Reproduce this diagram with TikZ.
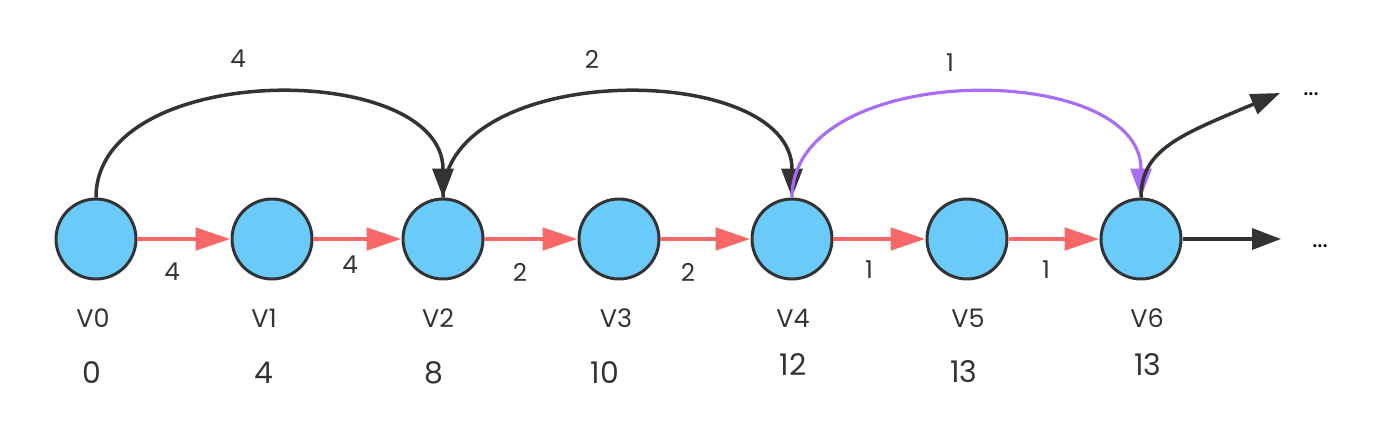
\documentclass[tikz,border=0pt]{standalone}
\usepackage{fontspec}
\setmainfont{Poppins}
\usetikzlibrary{arrows.meta}
\definecolor{nodefill}{HTML}{6ACBFB}
\definecolor{darkline}{HTML}{333333}
\definecolor{redline}{HTML}{F96868}
\definecolor{purpleline}{HTML}{A86CF7}
\definecolor{txt}{HTML}{333333}
\tikzset{
  vertex/.style={circle, draw=darkline, fill=nodefill, line width=1.7pt, minimum size=1.6cm, inner sep=0pt},
  redarrow/.style={draw=redline, line width=2.8pt, -{Triangle[length=0.7cm,width=0.44cm]}},
  blackarc/.style={draw=darkline, line width=2pt, -{Triangle[length=0.58cm,width=0.42cm]}},
  purplearc/.style={draw=purpleline, line width=1.8pt, -{Triangle[length=0.58cm,width=0.42cm]}},
  vlabel/.style={text=txt, font=\fontsize{14.5}{17}\selectfont, inner sep=0pt},
  numlabel/.style={text=txt, font=\fontsize{17}{20}\selectfont, inner sep=0pt},
  elabel/.style={text=txt, font=\fontsize{14}{16}\selectfont, inner sep=0pt},
  alabel/.style={text=txt, font=\fontsize{14}{16}\selectfont, inner sep=0pt},
  dotlabel/.style={text=black, font=\fontsize{14}{16}\selectfont, inner sep=0pt},
}
\begin{document}
\begin{tikzpicture}[x=0.02cm, y=-0.02cm]
\useasboundingbox (0,0) rectangle (1392,426);
% vertices
\node[vertex] (v0) at (96,239) {};
\node[vertex] (v1) at (272,239) {};
\node[vertex] (v2) at (443,239) {};
\node[vertex] (v3) at (619,239) {};
\node[vertex] (v4) at (792,239) {};
\node[vertex] (v5) at (967,239) {};
\node[vertex] (v6) at (1141,239) {};
% free ends
\coordinate (e1) at (1280,93);
\coordinate (e2) at (1281,239);
% red chain
\draw[redarrow] (v0) -- (v1);
\draw[redarrow] (v1) -- (v2);
\draw[redarrow] (v2) -- (v3);
\draw[redarrow] (v3) -- (v4);
\draw[redarrow] (v4) -- (v5);
\draw[redarrow] (v5) -- (v6);
% arcs
\draw[blackarc] (v0.north) .. controls +(0,-138) and +(0,-138) .. (v2.north);
\draw[blackarc] (v2.north) .. controls +(0,-138) and +(0,-138) .. (v4.north);
\draw[purplearc] (v4.north) .. controls +(0,-138) and +(0,-138) .. (v6.north);
\draw[blackarc] (v6.north) .. controls +(0,-48) and +(-100,42) .. (e1);
\draw[blackarc] (v6.east) -- (e2);
% arc labels
\node[alabel] (a1) at (238,59) {4};
\node[alabel] (a2) at (592,59) {2};
\node[alabel] (a3) at (950,63) {1};
% edge labels
\node[elabel] (l1) at (172,272) {4};
\node[elabel] (l2) at (350,265) {4};
\node[elabel] (l3) at (520,272) {2};
\node[elabel] (l4) at (688,272) {2};
\node[elabel] (l5) at (869,270) {1};
\node[elabel] (l6) at (1046,270) {1};
% vertex names
\node[vlabel] (n0) at (93,318) {V0};
\node[vlabel] (n1) at (264,318) {V1};
\node[vlabel] (n2) at (438,318) {V2};
\node[vlabel] (n3) at (616,318) {V3};
\node[vlabel] (n4) at (793,318) {V4};
\node[vlabel] (n5) at (968,318) {V5};
\node[vlabel] (n6) at (1147,318) {V6};
% distances
\node[numlabel] (d0) at (92,373) {0};
\node[numlabel] (d1) at (264,373) {4};
\node[numlabel] (d2) at (434,373) {8};
\node[numlabel] (d3) at (605,373) {10};
\node[numlabel] (d4) at (793,365) {12};
\node[numlabel] (d5) at (964,372) {13};
\node[numlabel] (d6) at (1148,365) {13};
% dots
\node[dotlabel] (t1) at (1311,94) {...};
\node[dotlabel] (t2) at (1320,246) {...};
\end{tikzpicture}
\end{document}
